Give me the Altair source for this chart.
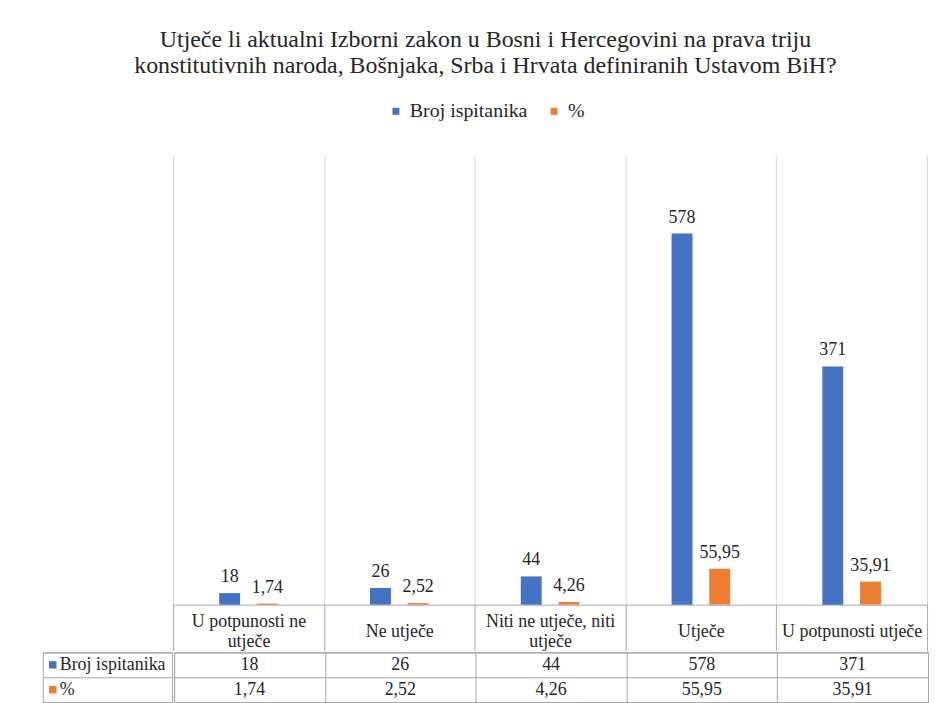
import altair as alt
import pandas as pd

# ---- data ----
categories = ["U potpunosti ne utječe", "Ne utječe", "Niti ne utječe, niti utječe",
              "Utječe", "U potpunosti utječe"]
header_lines = [["U potpunosti ne", "utječe"], ["Ne utječe"], ["Niti ne utječe, niti", "utječe"],
                ["Utječe"], ["U potpunosti utječe"]]
series = ["Broj ispitanika", "%"]
counts = [18, 26, 44, 578, 371]
percents = [1.74, 2.52, 4.26, 55.95, 35.91]
colors = ["#4472C4", "#ED7D31"]
title_lines = ["Utječe li aktualni Izborni zakon u Bosni i Hercegovini na prava triju",
               "konstitutivnih naroda, Bošnjaka, Srba i Hrvata definiranih Ustavom BiH?"]


def fmt(v):
    return str(v) if isinstance(v, int) else f"{v:.2f}".replace(".", ",")


rows = []
for c, n, p in zip(categories, counts, percents):
    rows.append({"cat": c, "series": series[0], "value": n, "label": fmt(n)})
    rows.append({"cat": c, "series": series[1], "value": p, "label": fmt(p)})
df = pd.DataFrame(rows)

FONT = "Liberation Serif"
TXT = "#262626"
TABLE = "#a6a6a6"
GRID = "#d9d9d9"
W = 758
H = 452
COLW = 130
FS = 18

# label expression for wrapped header labels
expr = ""
for c, lines in zip(categories, header_lines):
    arr = "[" + ",".join("'" + l + "'" for l in lines) + "]"
    expr += f"datum.label == '{c}' ? {arr} : "
expr += "datum.label"
single = [c for c, l in zip(categories, header_lines) if len(l) == 1]
single_test = "indexof([" + ",".join("'" + c + "'" for c in single) + "], datum.value) >= 0"

xenc_axis = alt.Axis(
    title=None, orient="bottom", tickBand="extent", ticks=True, tickSize=46,
    tickColor=TABLE, domainColor=TABLE, grid=True, gridColor=GRID,
    labelExpr=expr, labelPadding=-29,
    labelBaseline={"condition": {"test": single_test, "value": "line-top"}, "value": "middle"},
    labelFont=FONT, labelFontSize=FS, labelColor=TXT, labelLineHeight=20, labelAngle=0,
    labelLimit=0, labelOverlap=False,
)

base = alt.Chart(df).encode(
    x=alt.X("cat:N", sort=categories, scale=alt.Scale(paddingInner=0, paddingOuter=0),
            axis=xenc_axis),
    xOffset=alt.XOffset("series:N", sort=series,
                        scale=alt.Scale(paddingInner=0, paddingOuter=1.0)),
    y=alt.Y("value:Q", scale=alt.Scale(domain=[0, 700]), axis=None),
)

bars = base.mark_bar(size=21).encode(
    color=alt.Color("series:N", sort=series,
                    scale=alt.Scale(domain=series, range=colors),
                    legend=alt.Legend(title=None, orient="none", direction="horizontal",
                                      legendX=345, legendY=-54, symbolType="square",
                                      symbolSize=49, symbolStrokeWidth=0,
                                      labelFont=FONT, labelFontSize=20, labelColor=TXT,
                                      columnPadding=16, labelOffset=4)),
)
labels = base.mark_text(baseline="alphabetic", dy=-11, font=FONT, fontSize=FS,
                        color=TXT).encode(text="label:N")

top_chart = alt.layer(bars, labels).properties(width=W, height=H)

spacer = alt.Chart(pd.DataFrame({"a": [0]})).mark_point(size=0, opacity=0).encode(
    x=alt.value(60), y=alt.value(200)).properties(width=COLW, height=H)

# table
tab_rows = []
for c, n, p in zip(categories, counts, percents):
    tab_rows.append({"cat": c, "row": series[0], "label": fmt(n)})
    tab_rows.append({"cat": c, "row": series[1], "label": fmt(p)})
tdf = pd.DataFrame(tab_rows)

table_view = alt.ViewBackground(stroke=TABLE, strokeWidth=1)

values_table = alt.Chart(tdf).mark_text(font=FONT, fontSize=FS, color=TXT,
                                         baseline="middle").encode(
    x=alt.X("cat:N", sort=categories, scale=alt.Scale(paddingInner=0, paddingOuter=0),
            axis=alt.Axis(title=None, labels=False, ticks=False, domain=False,
                          grid=True, gridColor=TABLE, tickBand="extent")),
    y=alt.Y("row:N", sort=series, scale=alt.Scale(paddingInner=0, paddingOuter=0),
            axis=alt.Axis(title=None, labels=False, ticks=False, domain=False,
                          grid=True, gridColor=TABLE, tickBand="extent")),
    text="label:N",
).properties(width=W, height=50, view=table_view)

ldf = pd.DataFrame({"row": series, "color": colors})
lbase = alt.Chart(ldf).encode(
    y=alt.Y("row:N", sort=series, scale=alt.Scale(paddingInner=0, paddingOuter=0),
            axis=alt.Axis(title=None, labels=False, ticks=False, domain=False,
                          grid=True, gridColor=TABLE, tickBand="extent")),
)
lsq = lbase.mark_square(size=56, opacity=1).encode(
    x=alt.value(10), color=alt.Color("color:N", scale=None))
ltxt = lbase.mark_text(align="left", baseline="middle", font=FONT, fontSize=FS,
                       color=TXT).encode(x=alt.value(17), text="row:N")
label_table = alt.layer(lsq, ltxt).properties(width=COLW, height=50, view=table_view)

upper = alt.hconcat(spacer, top_chart, spacing=0)
lower = alt.hconcat(label_table, values_table, spacing=0)

chart = alt.vconcat(upper, lower, spacing=0).properties(
    title=alt.TitleParams(text=title_lines, font=FONT, fontSize=24, fontWeight="normal",
                          color=TXT, anchor="middle", lineHeight=26, offset=24),
    padding={"left": 34, "top": 18, "right": 5, "bottom": 5},
).configure_view(strokeWidth=0).configure_concat(spacing=0)

chart.save("out.html", embed_options={"renderer": "svg", "actions": False})
